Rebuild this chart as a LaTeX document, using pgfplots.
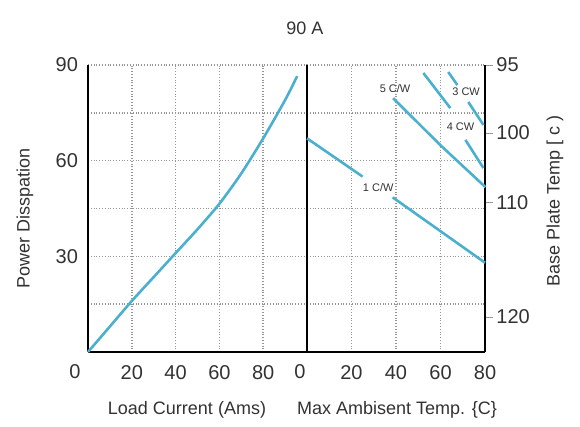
\documentclass[border=0pt]{standalone}
\usepackage{pgfplots}
\pgfplotsset{compat=1.18}
\usepackage{fontspec}
\setmainfont{Liberation Sans}
\definecolor{curve}{RGB}{74,176,206}
\definecolor{gridc}{RGB}{150,150,150}
\definecolor{txt}{RGB}{50,50,50}
\newcommand{\tk}{\textcolor{gridc}{\rule[2.8pt]{3.2pt}{0.7pt}}\hspace{1.8pt}}
\begin{document}
\begin{tikzpicture}
\useasboundingbox (0,0) rectangle (290pt,213.5pt);
\pgfplotsset{
  every axis/.append style={
    scale only axis, anchor=south west,
    ymin=0, ymax=90,
    /pgf/number format/assume math mode=true,
    tick label style={font=\fontsize{10}{12}\selectfont, text=txt},
    xticklabel style={yshift=-3pt},
    major grid style={gridc, densely dotted, line width=0.8pt},
    xmajorgrids, ymajorgrids,
    axis line style={black, line width=1.1pt},
    major tick length=0pt,
    clip=false,
  },
  curvestyle/.style={curve, line width=1.3pt, smooth},
}
% left panel
\begin{axis}[at={(44pt,37.5pt)}, width=109.5pt, height=143.5pt,
  xmin=0, xmax=100,
  axis x line*=bottom, axis y line*=left,
  xtick={20,40,60,80},
  ytick={15,30,45,60,75,90},
  yticklabels={,30,,60,,90},
  yticklabel style={xshift=-1.5pt},
]
\addplot[curvestyle] coordinates {(0,0) (10,8) (20,16) (30,23.5) (40,31) (50,38.5) (60,46.5) (70,56) (80,67) (90,79) (95.5,86.5)};
\end{axis}
% right panel
\begin{axis}[at={(153.5pt,37.5pt)}, width=89pt, height=143.5pt,
  xmin=0, xmax=80,
  axis x line*=bottom, axis y line*=box,
  xtick={20,40,60,80},
  ytick={15,30,45,60,75,90}, yticklabels={},
  ytick pos=right,
  extra y ticks={11,47,68.7,90},
  extra y tick labels={\tk 120,\tk 110,\tk 100,\tk 95},
  extra y tick style={grid=none, yticklabel pos=right,
    yticklabel style={anchor=west, inner sep=0pt, xshift=0.5pt}},
]
\addplot[curve, line width=1.3pt] coordinates {(0,67) (25,55)};
\addplot[curve, line width=1.3pt] coordinates {(38.5,48.5) (80,28)};
\addplot[curve, line width=1.3pt] coordinates {(38.7,79.6) (59.9,64.9) (80.2,51.7)};
\addplot[curve, line width=1.3pt] coordinates {(52.3,87.5) (64.4,76.5)};
\addplot[curve, line width=1.3pt] coordinates {(71.2,66.5) (79.3,57.7)};
\addplot[curve, line width=1.3pt] coordinates {(63.5,87.8) (67.6,83.7)};
\addplot[curve, line width=1.3pt] coordinates {(72.5,78.4) (79.3,71.2)};
\node[font=\fontsize{5.5}{6}\selectfont, text=txt] at (axis cs:32,51.7) {1 C/W};
\node[font=\fontsize{5.5}{6}\selectfont, text=txt] at (axis cs:39.6,82.5) {5 C/W};
\node[font=\fontsize{5.5}{6}\selectfont, text=txt] at (axis cs:69,70.5) {4 CW};
\node[font=\fontsize{5.5}{6}\selectfont, text=txt] at (axis cs:71.5,81.5) {3 CW};
\end{axis}
\node[font=\fontsize{10}{12}\selectfont, text=txt] at (37.5pt,27.5pt) {0};
\node[font=\fontsize{10}{12}\selectfont, text=txt] at (150pt,27.5pt) {0};
\node[font=\fontsize{9}{11}\selectfont, text=txt] at (152.5pt,199.5pt) {90 A};
\node[font=\fontsize{9}{11}\selectfont, text=txt, rotate=90] at (12.5pt,104.5pt) {Power Disspation};
\node[font=\fontsize{9}{11}\selectfont, text=txt, rotate=90] at (277.5pt,113pt) {Base Plate Temp [ c )};
\node[font=\fontsize{9}{11}\selectfont, text=txt] at (93.5pt,8.5pt) {Load Current (Ams)};
\node[font=\fontsize{9}{11}\selectfont, text=txt] at (198.5pt,8.5pt) {Max Ambisent Temp. \{C\}};
\end{tikzpicture}
\end{document}
